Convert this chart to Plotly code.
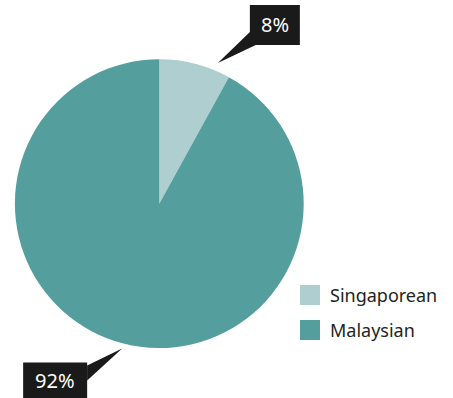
import math
import plotly.graph_objects as go

# Share of respondents by nationality
groups = ["Singaporean", "Malaysian"]
shares = [8, 92]
label_texts = ["8%", "92%"]

W, H = 453, 398
colors = ["rgb(174,206,207)", "rgb(84,159,158)"]
FONT = "Noto Sans"

# pie placement in pixels
cx, cy, r = 159.3, 203.7, 144.4


def px(x):
    return x / W


def py(y):
    return 1 - y / H


fig = go.Figure(go.Pie(
    labels=groups,
    values=shares,
    sort=False,
    direction="clockwise",
    rotation=0,
    marker=dict(colors=colors, line=dict(width=0)),
    textinfo="none",
    hoverinfo="label+percent",
    showlegend=False,
    domain=dict(x=[px(cx - r), px(cx + r)], y=[py(cy + r), py(cy - r)]),
))

shapes = []
annotations = []

# callout tips: angle (deg clockwise from top) and distance beyond the rim
total = sum(shares)
start = 0.0
mids = []
for v in shares:
    ang = v / total * 360
    mids.append(start + ang / 2)
    start += ang
tip_specs = [(mids[0] + 8.2, 8), (mids[1], 5)]
tips = []
for (deg, gap) in tip_specs:
    a = math.radians(deg)
    tips.append((cx + (r + gap) * math.sin(a), cy - (r + gap) * math.cos(a)))

# box geometry relative to each tip: (left, top, right, bottom) offsets, wedge base points
box_specs = [
    dict(box=(32, -58, 82, -18), base=[(32, -31), (40, -19)]),
    dict(box=(-99, 14, -35, 52), base=[(-35, 17), (-35, 32)]),
]

for txt, (tx, ty), spec in zip(label_texts, tips, box_specs):
    l, t, rr, b = spec["box"]
    x0, y0, x1, y1 = tx + l, ty + t, tx + rr, ty + b
    shapes.append(dict(type="rect", xref="paper", yref="paper",
                       x0=px(x0), x1=px(x1), y0=py(y1), y1=py(y0),
                       fillcolor="#1b1a1a", line=dict(width=0), layer="above"))
    (bx0, by0), (bx1, by1) = [(tx + dx, ty + dy) for dx, dy in spec["base"]]
    path = "M{},{} L{},{} L{},{} Z".format(px(bx0), py(by0), px(bx1), py(by1), px(tx), py(ty))
    shapes.append(dict(type="path", xref="paper", yref="paper", path=path,
                       fillcolor="#1b1a1a", line=dict(width=0), layer="above"))
    annotations.append(dict(x=px((x0 + x1) / 2), y=py((y0 + y1) / 2 - 1), xref="paper", yref="paper",
                            text=txt, showarrow=False, xanchor="center", yanchor="middle",
                            font=dict(family=FONT, size=20, color="white")))

# legend
leg_x, leg_y0, leg_step, sw = 300, 285, 35, 20
for i, (g, c) in enumerate(zip(groups, colors)):
    top = leg_y0 + i * leg_step
    shapes.append(dict(type="rect", xref="paper", yref="paper",
                       x0=px(leg_x), x1=px(leg_x + sw), y0=py(top + sw), y1=py(top),
                       fillcolor=c, line=dict(width=0)))
    annotations.append(dict(x=px(leg_x + 28), y=py(top + sw / 2), xref="paper", yref="paper",
                            text=g, showarrow=False, xanchor="left", yanchor="middle",
                            font=dict(family=FONT, size=18, color="#231f20")))

fig.update_layout(
    width=W, height=H,
    margin=dict(l=0, r=0, t=0, b=0),
    paper_bgcolor="white", plot_bgcolor="white",
    shapes=shapes, annotations=annotations,
)

fig.write_html("out.html")
